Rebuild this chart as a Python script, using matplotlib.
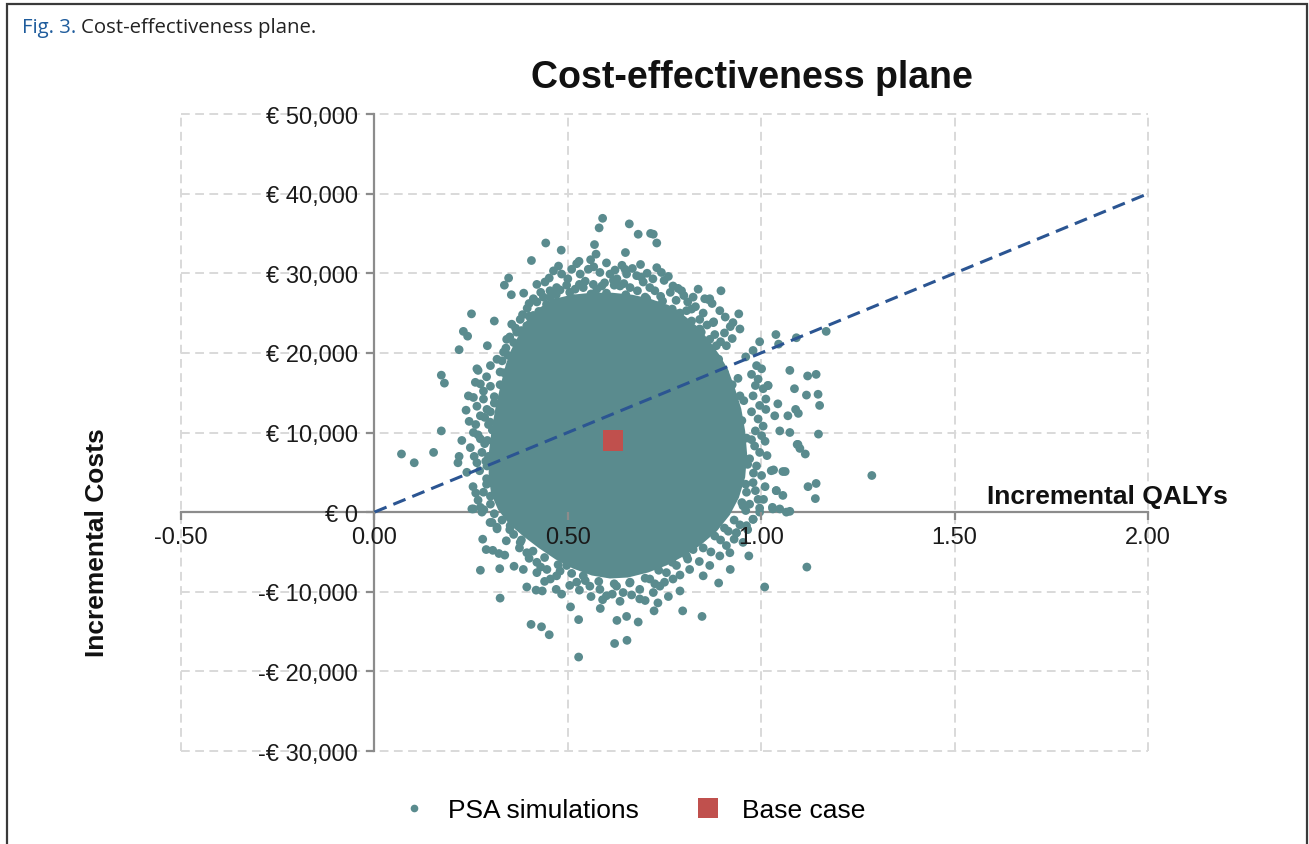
import matplotlib
matplotlib.use("Agg")
import matplotlib.pyplot as plt
from matplotlib.lines import Line2D
from matplotlib.patches import Rectangle, Polygon

# ---------------- data ----------------
x_ticks = [-0.5, 0.0, 0.5, 1.0, 1.5, 2.0]
x_tick_labels = ["-0.50", "0.00", "0.50", "1.00", "1.50", "2.00"]
y_ticks = [50000, 40000, 30000, 20000, 10000, 0, -10000, -20000, -30000]
y_tick_labels = ["€ 50,000", "€ 40,000", "€ 30,000", "€ 20,000", "€ 10,000", "€ 0",
                 "-€ 10,000", "-€ 20,000", "-€ 30,000"]

wtp_threshold = 20000  # € per QALY (dashed line)
wtp_qaly = [0.0, 2.0]

base_case_qaly = [0.617]
base_case_cost = [9000]

# dense central region of the PSA cloud (outline)
core_qaly = [0.372, 0.397, 0.428, 0.467, 0.511, 0.563, 0.614, 0.666, 0.712, 0.756, 0.797,
             0.834, 0.862, 0.888, 0.911, 0.929, 0.945, 0.955, 0.960, 0.955, 0.939, 0.916,
             0.883, 0.841, 0.797, 0.754, 0.707, 0.655, 0.609, 0.563, 0.514, 0.470, 0.428,
             0.387, 0.351, 0.323, 0.305, 0.299, 0.299, 0.307, 0.317, 0.330, 0.343, 0.356]
core_cost = [21730, 23990, 25500, 26630, 27130, 27380, 27380, 27130, 26630, 25870, 24620,
             23110, 21480, 19720, 17840, 15450, 12940, 10170, 7280, 4400, 1880, -250,
             -2260, -4020, -5400, -6530, -7410, -8040, -8160, -7790, -6910, -5780, -4400,
             -2890, -1380, 380, 2390, 4770, 7280, 10420, 13190, 15950, 18460, 20220]

# individual PSA simulations visible around the dense region
psa_qaly = [
    # outlying simulations
    0.590, 0.581, 0.659, 0.682, 0.714, 0.721, 0.730, 0.443, 0.483, 0.569, 0.573, 0.649,
    0.406, 0.529, 0.559, 0.688, 0.347, 0.336, 0.354, 0.386, 0.896, 0.837, 0.873, 0.863,
    0.251, 0.310, 0.907, 0.942, 0.920, 0.877, 0.230, 0.241, 0.219, 0.292, 1.038, 1.045,
    1.091, 1.168, 0.996, 0.173, 0.181, 0.268, 1.074, 1.120, 1.142, 1.086, 1.117, 1.147,
    1.151, 1.017, 0.237, 0.245, 0.173, 1.089, 1.096, 1.148, 1.093, 1.100, 1.114, 0.070,
    0.103, 0.153, 0.226, 0.219, 0.216, 1.032, 1.062, 1.121, 1.142, 1.039, 1.286, 1.140,
    1.029, 1.048, 1.074, 1.006, 0.996, 0.968, 1.118, 1.009, 0.920, 0.890, 0.847, 0.797,
    0.723, 0.733, 0.682, 0.653, 0.621, 0.652, 0.627, 0.584, 0.528, 0.528, 0.507, 0.405,
    0.432, 0.452, 0.484, 0.394, 0.418, 0.434, 0.325, 0.341, 0.361, 0.274, 0.324, 0.280,
    0.289, 0.306, 0.322, 0.337, 0.252, 0.274, 0.299, 0.317,
    # upper fringe
    0.463, 0.484, 0.510, 0.532, 0.553, 0.583, 0.609, 0.622, 0.648, 0.652, 0.678, 0.730,
    0.742, 0.749, 0.420, 0.441, 0.454, 0.471, 0.497, 0.519, 0.540, 0.566, 0.588, 0.618,
    0.635, 0.661, 0.695, 0.712, 0.772, 0.785, 0.794, 0.824, 0.411, 0.437, 0.463, 0.489,
    0.514, 0.532, 0.557, 0.583, 0.609, 0.635, 0.669, 0.704, 0.734, 0.755, 0.781, 0.807,
    0.820, 0.841, 0.854, 0.377, 0.394, 0.355, 0.368, 0.411, 0.790, 0.815, 0.841, 0.867,
    0.884, 0.910, 0.876,
    0.430, 0.452, 0.476, 0.500, 0.523, 0.545, 0.567, 0.595, 0.600, 0.627, 0.640, 0.667,
    0.690, 0.705, 0.720, 0.760, 0.765, 0.800, 0.810, 0.830, 0.850, 0.860, 0.880, 0.895,
    0.905, 0.925, 0.395, 0.400, 0.383, 0.365, 0.350, 0.340, 0.330, 0.425, 0.445, 0.470,
    0.600, 0.560, 0.650, 0.700, 0.740, 0.780,
    0.455, 0.480, 0.505, 0.530, 0.575, 0.620, 0.645, 0.680, 0.725, 0.745, 0.770, 0.790,
    0.820, 0.845, 0.870, 0.890, 0.905, 0.420, 0.400, 0.380, 0.360, 0.345, 0.335, 0.325,
    # left fringe
    0.265, 0.261, 0.274, 0.243, 0.256, 0.282, 0.291, 0.274, 0.299, 0.256, 0.274, 0.248,
    0.278, 0.265, 0.291, 0.239, 0.299, 0.282, 0.317, 0.325, 0.342, 0.334,
    0.300, 0.290, 0.282, 0.265, 0.285, 0.262, 0.268, 0.285, 0.258, 0.272, 0.255, 0.268,
    0.262, 0.283, 0.300, 0.310, 0.305, 0.295, 0.290, 0.300,
    0.310, 0.300, 0.295, 0.292, 0.288, 0.290, 0.300, 0.310,
    # right fringe
    0.867, 0.893, 0.927, 0.945, 0.979, 0.988, 1.001, 0.992, 1.005, 0.979, 0.996, 0.992,
    1.005, 1.001, 0.983, 0.996, 0.970, 0.988, 1.001, 0.979, 0.962, 0.992, 0.953, 0.979,
    0.936, 0.953, 0.919, 1.018, 1.043, 1.035, 1.069, 1.048, 1.074, 1.095, 1.026, 1.056,
    1.039, 1.056,
    0.960, 0.975, 0.985, 1.012, 0.975, 1.012, 0.985, 1.010, 0.975, 1.015, 0.980, 1.010,
    0.985, 0.970, 0.960, 0.945, 0.965, 0.930, 0.940, 0.955,
    0.925, 0.945, 0.950, 0.962, 0.965, 0.960, 0.950, 0.930, 0.905,
    # lower fringe
    0.256, 0.278, 0.304, 0.317, 0.351, 0.377, 0.394, 0.420, 0.385, 0.420, 0.446, 0.471,
    0.497, 0.523, 0.540, 0.557, 0.583, 0.600, 0.626, 0.643, 0.661, 0.686, 0.712, 0.738,
    0.755, 0.781, 0.807, 0.824, 0.850, 0.867, 0.893, 0.910, 0.936, 0.962, 0.979, 0.996,
    1.030, 1.065, 0.772, 0.686, 0.721,
    0.360, 0.375, 0.400, 0.430, 0.455, 0.480, 0.505, 0.530, 0.560, 0.590, 0.615, 0.635,
    0.665, 0.700, 0.725, 0.750, 0.790, 0.815, 0.840, 0.870, 0.895, 0.915, 0.790, 0.760,
    0.470, 0.440,
    0.330, 0.350, 0.380, 0.410, 0.440, 0.475, 0.510, 0.545, 0.580, 0.620, 0.660, 0.700,
    0.735, 0.770, 0.810, 0.850, 0.880,
]
psa_cost = [
    # outlying simulations
    36900, 35700, 36200, 34900, 35000, 34900, 33800, 33800, 32900, 33600, 32400, 32600,
    31600, 31500, 31700, 31100, 29400, 28500, 27300, 27500, 27800, 28000, 26200, 26700,
    24900, 24000, 24500, 24900, 23300, 23900, 22700, 22100, 20400, 20900, 22300, 21100,
    21900, 22700, 21400, 17200, 16200, 17800, 17800, 17100, 17300, 15500, 14700, 14800,
    13400, 15900, 12800, 11400, 10200, 12900, 12400, 9800, 8500, 8000, 7300, 7300,
    6200, 7500, 9000, 7000, 6200, 5300, 5100, 3200, 3600, 2700, 4600, 1700,
    600, 400, 100, 1600, 500, -5500, -6900, -9400, -7200, -8900, -13100, -12400,
    -12400, -11400, -13800, -16100, -16500, -13100, -13600, -12100, -13500, -18200, -11900, -14100,
    -14400, -15400, -10300, -9400, -9800, -9900, -10800, -3600, -6800, -7300, -7100, -3400,
    -4700, -4800, -5200, -5400, 400, 600, -1300, -1900,
    # upper fringe
    30300, 29900, 30500, 29900, 30500, 30100, 29900, 30400, 30500, 29900, 29700, 30700,
    30100, 29100, 28600, 28900, 27800, 28200, 28500, 28000, 28200, 28600, 28400, 29100,
    28400, 28200, 28900, 28200, 28400, 28100, 27800, 27000, 26800, 27000, 26300, 25900,
    26800, 25900, 26300, 26800, 25900, 25500, 26300, 26800, 25900, 25500, 24900, 25300,
    25500, 24200, 26800, 24200, 23400, 23600, 22600, 24700, 23400, 22600, 23000, 21700,
    20900, 20900, 23800,
    27600, 29400, 30900, 29300, 31200, 29000, 30800, 28800, 31300, 29300, 31000, 30600,
    29500, 30000, 29300, 29600, 27600, 27200, 26400, 25800, 25000, 23500, 22300, 21400,
    22500, 21800, 25600, 26200, 24800, 23100, 22000, 20600, 19000, 25200, 26100, 27300,
    27500, 27400, 27300, 27000, 27100, 26600,
    27000, 27900, 27600, 28600, 28000, 28500, 28700, 27800, 27800, 26500, 25500, 25000,
    24000, 22600, 20500, 19200, 17500, 26400, 24600, 22800, 21300, 19700, 17500, 16000,
    # left fringe
    18000, 16300, 16100, 14600, 14400, 14200, 12900, 12100, 11300, 10000, 9200, 8100,
    7500, 6200, 5800, 5000, 3700, 2500, 19200, 17600, 21700, 20100,
    18400, 17000, 15200, 13300, 11900, 11000, 9700, 8600, 7000, 5200, 3200, 1500,
    2400, 300, 15800, 13700, 10300, 7000, 4200, 1000,
    14500, 12600, 11000, 9000, 6400, 3500, 2000, -200,
    # right fringe
    26800, 25300, 23800, 23000, 20300, 18400, 18000, 16700, 15500, 14600, 13400, 11700,
    10800, 9600, 8300, 7500, 6700, 5800, 4600, 3700, 2500, 1600, 800, -900,
    -2600, -3800, -5100, 15900, 13600, 12100, 12100, 10200, 10000, 8500, 5200, 5100,
    2700, 2100,
    19500, 17300, 15900, 14200, 12600, 12900, 10200, 8900, 9100, 7100, 4900, 3200,
    2700, 1000, 200, -1600, -2200, -3400, 16800, 14000,
    16000, 14600, 11500, 9300, 6000, 3500, 1200, -1000, -2000,
    # lower fringe
    400, 0, -1300, -2100, -1700, -3800, -5100, -6300, -7200, -7600, -7200, -8000,
    -6700, -8800, -8000, -9300, -9700, -10500, -9300, -10100, -8800, -9700, -8400, -9300,
    -7600, -6700, -5500, -4700, -8000, -6700, -5500, -4200, -2600, -1700, -900, 0,
    400, 0, -8400, -10900, -10100,
    -2800, -4500, -5800, -6900, -8400, -7400, -9200, -9800, -10600, -11000, -10300, -11200,
    -10400, -11100, -9000, -8800, -7900, -7200, -6200, -5000, -3500, -2400, -9900, -10600,
    -9700, -8700,
    -1000, -2200, -3500, -4900, -5700, -6600, -7700, -8600, -8700, -9000, -8900, -8300,
    -7300, -6300, -5900, -4500, -3000,
]

# ---------------- style ----------------
TEAL = "#5a8b8e"
RED = "#c0504d"
BLUE = "#2b5592"
GRID = "#d9d9d9"
AXIS = "#8c8c8c"
FONT = "Liberation Sans"

plt.rcParams["font.family"] = [FONT, "DejaVu Sans"]

W, H = 1309, 845
fig = plt.figure(figsize=(W / 100, H / 100), dpi=100)
fig.patch.set_facecolor("white")

ax = fig.add_axes([181 / W, 1 - 752 / H, (1148 - 181) / W, (752 - 115) / H])
ax.set_xlim(-0.5, 2.0)
ax.set_ylim(-30000, 50000)
ax.patch.set_alpha(0)

# spines crossing at origin
for s in ("top", "right"):
    ax.spines[s].set_visible(False)
ax.spines["left"].set_position(("data", 0))
ax.spines["bottom"].set_position(("data", 0))
for s in ("left", "bottom"):
    ax.spines[s].set_color(AXIS)
    ax.spines[s].set_linewidth(1.6)
    ax.spines[s].set_zorder(1.5)

# dashed grid (drawn below the data)
for v in x_ticks:
    if v != 0:
        ax.axvline(v, color=GRID, lw=1.4, ls=(0, (4.5, 2.8)), zorder=0, clip_on=False)
for v in y_ticks:
    if v != 0:
        ax.axhline(v, color=GRID, lw=1.4, ls=(0, (4.5, 2.8)), zorder=0, clip_on=False)

ax.set_xticks(x_ticks)
ax.set_xticklabels(x_tick_labels)
ax.set_yticks(y_ticks)
ax.set_yticklabels(y_tick_labels)
ax.tick_params(axis="both", direction="out", length=6, width=1.6, color=AXIS,
               labelsize=17, labelcolor="#1a1a1a")
ax.tick_params(axis="x", pad=4)
ax.tick_params(axis="y", pad=6)
ax.xaxis.set_zorder(5)
ax.yaxis.set_zorder(5)

# PSA cloud
ax.add_patch(Polygon(list(zip(core_qaly, core_cost)), closed=True, facecolor=TEAL,
                     edgecolor=TEAL, lw=2, zorder=2))
ax.scatter(psa_qaly, psa_cost, s=40, color=TEAL, edgecolors="none", zorder=2.2)

# WTP threshold line
ax.plot(wtp_qaly, [q * wtp_threshold for q in wtp_qaly], color=BLUE, lw=2.2,
        ls=(0, (4.3, 2.4)), zorder=3)

# base case
ax.scatter(base_case_qaly, base_case_cost, marker="s", s=225, color=RED,
           edgecolors="none", zorder=4)

# axis labels
fig.text(1228 / W, 1 - 497 / H, "Incremental QALYs", ha="right", va="center",
         fontsize=19, fontweight="bold", color="#111111")
fig.text(97 / W, 1 - 543 / H, "Incremental Costs", ha="center", va="center",
         rotation=90, fontsize=19, fontweight="bold", color="#111111")

# title
fig.text(752 / W, 1 - 78 / H, "Cost-effectiveness plane", ha="center", va="center",
         fontsize=27, fontweight="bold", color="#111111")

# legend
handles = [
    Line2D([], [], marker="o", ls="", color=TEAL, markersize=5.5, markeredgewidth=0),
    Line2D([], [], marker="s", ls="", color=RED, markersize=15, markeredgewidth=0),
]
fig.legend(handles, ["PSA simulations", "Base case"], loc="center",
           bbox_to_anchor=(633 / W, 1 - 811 / H), ncol=2, frameon=False, fontsize=19,
           handlelength=1.0, handletextpad=0.8, columnspacing=2.1)

# caption
cap_font = ["Open Sans", "DejaVu Sans"]
cap1 = fig.text(22 / W, 1 - 28 / H, "Fig. 3.", ha="left", va="center", fontsize=14.7,
                family=cap_font, fontweight="normal", color="#1f5c9c")
fig.canvas.draw()
bb = cap1.get_window_extent()
fig.text((bb.x1 + 5) / W, 1 - 28 / H, "Cost-effectiveness plane.", ha="left", va="center",
         fontsize=14.7, family=cap_font, fontweight="normal", color="#222222")

# frame around the figure panel
fig.add_artist(Rectangle((7 / W, -0.02), (1307 - 7) / W, 1 - 5 / H + 0.02,
                         transform=fig.transFigure, fill=False, edgecolor="#3a3a3a",
                         lw=1.6))

fig.savefig("out.png", dpi=100)
